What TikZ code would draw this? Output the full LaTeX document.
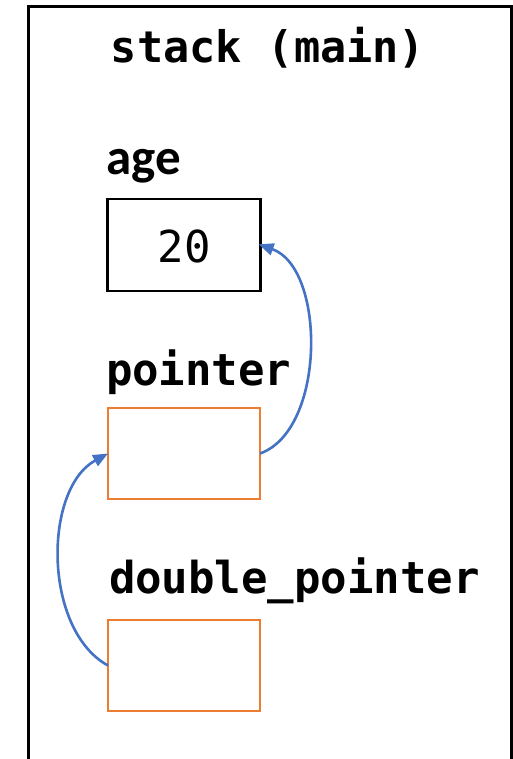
\documentclass[tikz,border=0pt]{standalone}
\usepackage{fontspec}
\usetikzlibrary{arrows.meta}
\newfontfamily\monofnt{DejaVu Sans Mono}
\newfontfamily\agefnt{Carlito}
\definecolor{ptrorange}{HTML}{ED7D31}
\definecolor{arrblue}{HTML}{4472C4}
\tikzset{
  lbl/.style={anchor=base west, inner sep=0pt, outer sep=0pt, font=\monofnt\bfseries\fontsize{44}{44}\selectfont},
  valbox/.style={draw=black, line width=2.6pt, inner sep=0pt, outer sep=0pt, minimum width=153pt, minimum height=92pt, font=\monofnt\fontsize{44}{44}\selectfont},
  ptrbox/.style={draw=ptrorange, line width=2.6pt, inner sep=0pt, outer sep=0pt, minimum width=152pt, minimum height=91pt},
  ptrarrow/.style={draw=arrblue, line width=2.6pt, -{Triangle[length=15pt,width=12pt]}}
}
\begin{document}
\begin{tikzpicture}[x=1pt,y=-1pt]
\useasboundingbox (0,0) rectangle (513,759);
\clip (0,0) rectangle (513,759);
\fill[white] (0,0) rectangle (513,759);
\node[draw=black, line width=3pt, inner sep=0pt, outer sep=0pt, minimum width=483pt, minimum height=800pt, anchor=north west] (stack) at (28,7) {};
\node[anchor=base, inner sep=0pt, font=\monofnt\bfseries\fontsize{43.5}{43.5}\selectfont] (title) at (268,63) {stack (main)};
\node[anchor=base west, inner sep=0pt, font=\agefnt\bfseries\fontsize{51}{51}\selectfont] (agelbl) at (106,175) {age};
\node[valbox] (age) at (184,245) {};
\node[anchor=base, inner sep=0pt, font=\monofnt\fontsize{44}{44}\selectfont] (ageval) at (184,262) {20};
\node[lbl] (ptrlbl) at (106,385) {pointer};
\node[ptrbox] (ptr) at (184,453.5) {};
\node[lbl] (dptrlbl) at (109,593) {double\_pointer};
\node[ptrbox] (dptr) at (184,665.5) {};
\draw[ptrarrow, shorten >=-2pt] (ptr.east) .. controls (326,430) and (326,268) .. (age.east);
\draw[ptrarrow] (dptr.west) .. controls (43,630) and (43,489) .. (ptr.west);
\end{tikzpicture}
\end{document}
